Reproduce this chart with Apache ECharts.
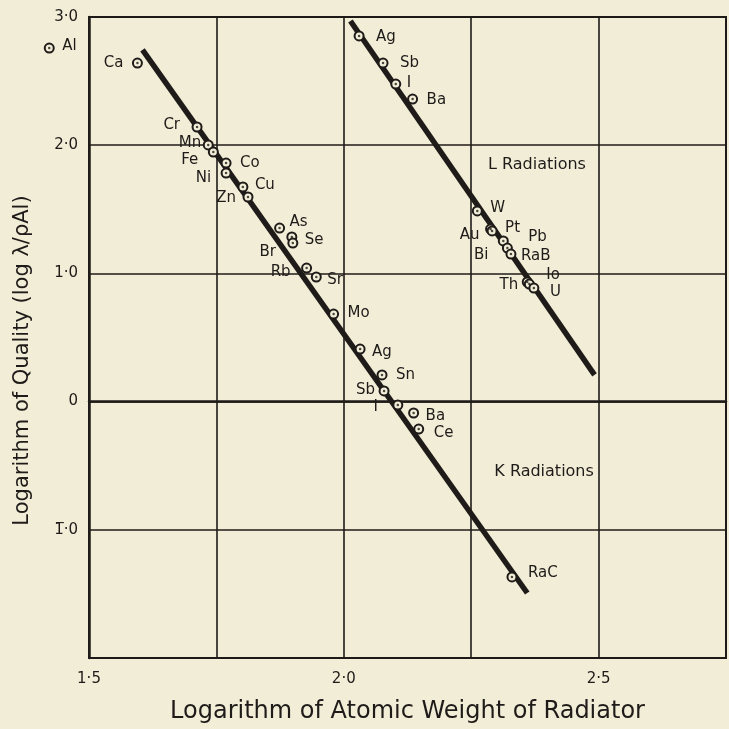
<!DOCTYPE html>
<html>
<head>
<meta charset="utf-8">
<script src="https://cdn.jsdelivr.net/npm/echarts@6/dist/echarts.min.js"></script>
<style>
  html, body { margin: 0; padding: 0; background: #f1edd7; }
  #chart { width: 729px; height: 729px; }
</style>
</head>
<body>
<div id="chart"></div>
<script>
// K radiations: log atomic weight vs log quality
const kNames = ['Al', 'Ca', 'Cr', 'Mn', 'Fe', 'Co', 'Ni', 'Cu', 'Zn', 'As', 'Se', 'Br', 'Rb', 'Sr', 'Mo', 'Ag', 'Sn', 'Sb', 'I', 'Ba', 'Ce', 'RaC'];
const kX = [1.422, 1.595, 1.712, 1.734, 1.744, 1.769, 1.769, 1.802, 1.812, 1.874, 1.898, 1.900, 1.927, 1.946, 1.980, 2.032, 2.075, 2.079, 2.106, 2.137, 2.147, 2.330];
const kY = [2.758, 2.641, 2.142, 2.002, 1.947, 1.861, 1.783, 1.674, 1.596, 1.354, 1.284, 1.237, 1.042, 0.972, 0.683, 0.410, 0.208, 0.083, -0.027, -0.089, -0.214, -1.368];

// L radiations
const lNames = ['Ag', 'Sb', 'I', 'Ba', 'W', 'Au', 'Pt', 'Pb', 'Bi', 'RaB', 'Th', 'Io', 'U'];
const lX = [2.030, 2.077, 2.102, 2.135, 2.262, 2.288, 2.291, 2.313, 2.321, 2.328, 2.360, 2.364, 2.373];
const lY = [2.852, 2.641, 2.477, 2.360, 1.487, 1.346, 1.331, 1.253, 1.198, 1.151, 0.933, 0.917, 0.886];

// fitted straight lines (end points)
const kLineX = [1.605, 2.360];
const kLineY = [2.743, -1.493];
const lLineX = [2.013, 2.492];
const lLineY = [2.969, 0.208];

// region captions
const captionText = ['L Radiations', 'K Radiations'];
const captionX = [2.379, 2.393];
const captionY = [1.853, -0.541];

// tick labels
const xTickValues = [1.5, 2.0, 2.5];
const xTickText = ['1\u00b75', '2\u00b70', '2\u00b75'];
const yTickValues = [3, 2, 1, 0, -1];
const yTickText = ['3\u00b70', '2\u00b70', '1\u00b70', '0', '1\u0305\u00b70'];

// label placement: [side, distance, vertical shift]
const kLabelPlace = {
  Al: ['right', 7.5, -2], Ca: ['left', 8.5, 0], Cr: ['left', 11.5, -2], Mn: ['left', 1.5, -2],
  Fe: ['left', 9.5, 8], Co: ['right', 8.5, 0], Ni: ['left', 9.5, 5], Cu: ['right', 6.5, -2],
  Zn: ['left', 6.5, 1], As: ['right', 4.5, -6], Se: ['right', 7.5, 3], Br: ['left', 11.5, 9],
  Rb: ['left', 10.5, 4], Sr: ['right', 5.5, 3], Mo: ['right', 8.5, -1], Ag: ['right', 6.5, 3],
  Sn: ['right', 8.5, 0], Sb: ['left', 3.5, -1], I: ['left', 14.5, 2], Ba: ['right', 6.5, 3],
  Ce: ['right', 9.5, 4], RaC: ['right', 10.5, -4]
};
const lLabelPlace = {
  Ag: ['right', 11.5, 1], Sb: ['right', 11.5, 0], I: ['right', 5.5, -1], Ba: ['right', 8.5, 1],
  W: ['right', 7.5, -3], Au: ['left', 5.5, 6], Pt: ['right', 7.5, -3], Pb: ['right', 19.5, -4],
  Bi: ['left', 13.5, 7], RaB: ['right', 4.5, 2], Th: ['left', 3.5, 3], Io: ['right', 11.5, -9],
  U: ['right', 10.5, 4]
};

const INK = '#1f1b19';
const PAPER = '#f1edd7';
const FONT = 'DejaVu Sans';

function points(names, xs, ys, place) {
  return names.map((n, i) => {
    const p = place[n];
    return {
      name: n,
      value: [xs[i], ys[i]],
      label: { position: p[0], distance: p[1], offset: [0, p[2]] }
    };
  });
}
function dots(xs, ys) {
  return xs.map((x, i) => [x, ys[i]]);
}

const ringStyle = {
  type: 'scatter',
  symbol: 'circle',
  symbolSize: 9,
  clip: false,
  itemStyle: { color: PAPER, borderColor: INK, borderWidth: 2, opacity: 1 },
  label: {
    show: true,
    formatter: '{b}',
    color: INK,
    fontFamily: FONT,
    fontSize: 15
  },
  emphasis: { disabled: true },
  z: 3
};
const dotStyle = {
  type: 'scatter',
  symbol: 'circle',
  symbolSize: 2.5,
  clip: false,
  silent: true,
  itemStyle: { color: INK },
  z: 4
};
const lineStyle = {
  type: 'line',
  showSymbol: false,
  symbol: 'none',
  lineStyle: { color: INK, width: 5.5, cap: 'butt' },
  silent: true,
  z: 2
};

const chart = echarts.init(document.getElementById('chart'), null, { renderer: 'canvas' });
chart.setOption({
  backgroundColor: PAPER,
  animation: false,
  grid: {
    left: 89, top: 17, width: 640, height: 641,
    show: true, borderColor: INK, borderWidth: 2, backgroundColor: 'transparent'
  },
  xAxis: {
    type: 'value',
    min: 1.5, max: 2.75, interval: 0.25,
    axisLine: { show: true, lineStyle: { color: INK, width: 2.5 } },
    axisTick: { show: false },
    splitLine: { show: true, lineStyle: { color: INK, width: 1.6 } },
    axisLabel: {
      color: INK, fontFamily: FONT, fontSize: 15, margin: 14,
      formatter: v => {
        const i = xTickValues.findIndex(t => Math.abs(t - v) < 1e-6);
        return i >= 0 ? xTickText[i] : '';
      }
    },
    name: 'Logarithm of Atomic Weight of Radiator',
    nameLocation: 'middle',
    nameGap: 42,
    nameTextStyle: { color: INK, fontFamily: FONT, fontSize: 24 }
  },
  yAxis: {
    type: 'value',
    min: -2, max: 3, interval: 1,
    axisLine: { show: true, lineStyle: { color: INK, width: 2.5 } },
    axisTick: { show: false },
    splitLine: { show: true, lineStyle: { color: INK, width: 1.6 } },
    axisLabel: {
      color: INK, fontFamily: FONT, fontSize: 15, margin: 11,
      formatter: v => {
        const i = yTickValues.findIndex(t => Math.abs(t - v) < 1e-6);
        return i >= 0 ? yTickText[i] : '';
      }
    },
    name: 'Logarithm of Quality (log \u03bb/\u03c1Al)',
    nameLocation: 'middle',
    nameGap: 56,
    nameTextStyle: { color: INK, fontFamily: FONT, fontSize: 21, padding: [0, 46, 0, 0] }
  },
  series: [
    Object.assign({}, lineStyle, { name: 'K line', data: dots(kLineX, kLineY) }),
    Object.assign({}, lineStyle, { name: 'L line', data: dots(lLineX, lLineY) }),
    Object.assign({}, ringStyle, { name: 'K', data: points(kNames, kX, kY, kLabelPlace) }),
    Object.assign({}, ringStyle, { name: 'L', data: points(lNames, lX, lY, lLabelPlace) }),
    Object.assign({}, dotStyle, { name: 'K centres', data: dots(kX, kY) }),
    Object.assign({}, dotStyle, { name: 'L centres', data: dots(lX, lY) }),
    {
      type: 'scatter',
      name: 'captions',
      symbolSize: 0,
      silent: true,
      itemStyle: { color: INK, opacity: 1 },
      data: captionText.map((t, i) => ({ name: t, value: [captionX[i], captionY[i]] })),
      label: {
        show: true, position: 'top', distance: -9, formatter: '{b}',
        color: INK, opacity: 1, textBorderWidth: 0, fontFamily: FONT, fontSize: 16
      },
      emphasis: { disabled: true },
      z: 5
    }
  ]
});
</script>
</body>
</html>
